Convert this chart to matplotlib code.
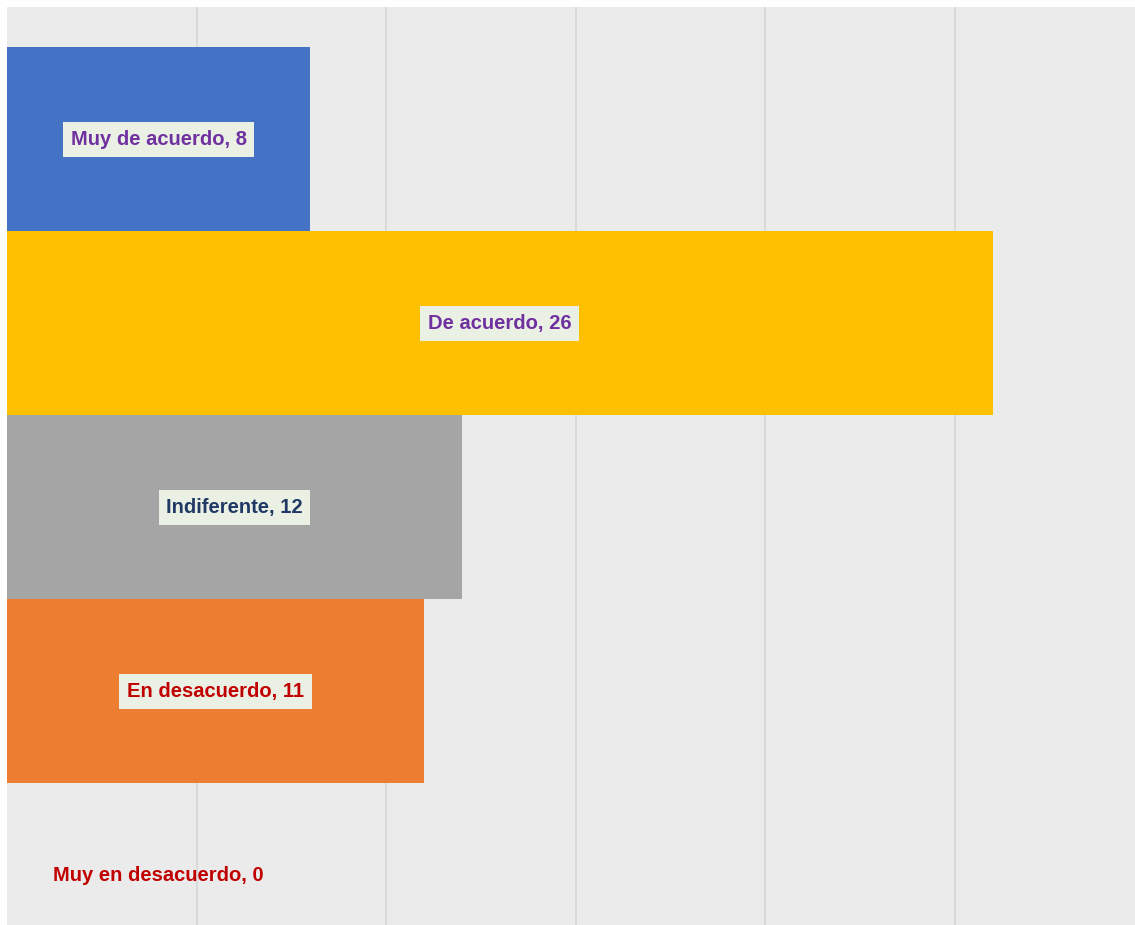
import matplotlib
matplotlib.use("Agg")
import matplotlib.pyplot as plt

# Données du graphique
categories = ["Muy de acuerdo", "De acuerdo", "Indiferente", "En desacuerdo", "Muy en desacuerdo"]
valeurs = [8, 26, 12, 11, 0]
couleurs = ["#4472C4", "#FFC000", "#A5A5A5", "#ED7D31", "#A5A5A5"]
couleurs_texte = ["#7030A0", "#7030A0", "#203864", "#C00000", "#C00000"]

plt.rcParams['font.family'] = ['Liberation Sans', 'DejaVu Sans']

fig = plt.figure(figsize=(11.35, 9.25), dpi=100)
ax = fig.add_axes([7 / 1135, 0, 1 - 7 / 1135, 1 - 7 / 925])
ax.set_facecolor("#EBEBEB")

y = list(range(len(categories)))
ax.barh(y, valeurs, height=1.0, color=couleurs, zorder=2)

for i, (cat, val) in enumerate(zip(categories, valeurs)):
    x_txt = val / 2 if val > 0 else 4
    boite = dict(boxstyle="square,pad=0.38", fc="#EAF1E4", ec="none") if val > 0 else None
    ax.text(x_txt, i, f"{cat}, {val}", ha="center", va="center", fontsize=14.5,
            fontweight="bold", color=couleurs_texte[i], bbox=boite, zorder=3)

ax.set_xlim(0, 29.75)
ax.set_ylim(4.27, -0.72)
ax.set_xticks([5, 10, 15, 20, 25])
ax.xaxis.grid(True, color="#D6D6D6", linewidth=1.2, zorder=1)
ax.set_axisbelow(True)
ax.tick_params(left=False, bottom=False, labelleft=False, labelbottom=False)
for s in ax.spines.values():
    s.set_visible(False)

fig.savefig("out.png", dpi=100)
